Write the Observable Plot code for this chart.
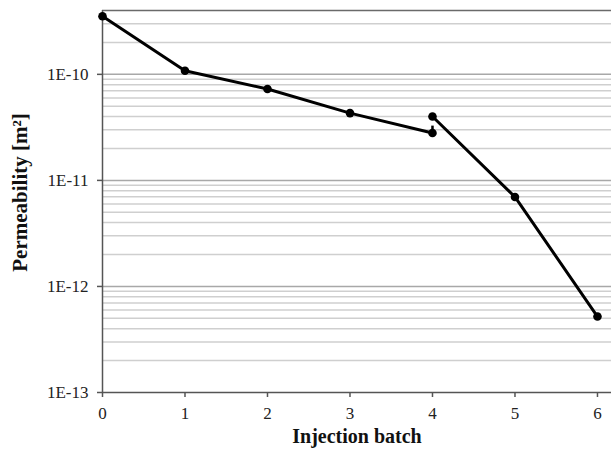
<!DOCTYPE html>
<html><head><meta charset="utf-8">
<script src="https://cdn.jsdelivr.net/npm/d3@7"></script>
<script src="https://cdn.jsdelivr.net/npm/@observablehq/plot@0.6"></script>
<style>body{margin:0;background:#fff}</style>
</head><body><div id="chart"></div>
<script>
const batchA = [0, 1, 2, 3, 4];
const permA = [3.53e-10, 1.08e-10, 7.27e-11, 4.31e-11, 2.8e-11];
const batchB = [4, 5, 6];
const permB = [4.0e-11, 6.98e-12, 5.2e-13];
const errBatch = [4];
const errLow = [2.8e-11];
const errHigh = [3.25e-11];
const yTicks = [1e-13, 1e-12, 1e-11, 1e-10];
const yTickLabels = ["1E-13", "1E-12", "1E-11", "1E-10"];
const xTicks = [0, 1, 2, 3, 4, 5, 6];
const xTickLabels = ["0", "1", "2", "3", "4", "5", "6"];
const yTop = 4e-10;

const seriesA = batchA.map((x, i) => ({x, y: permA[i]}));
const seriesB = batchB.map((x, i) => ({x, y: permB[i]}));
const errs = errBatch.map((x, i) => ({x, lo: errLow[i], hi: errHigh[i]}));
const minor = [];
for (const d of yTicks) for (let k = 2; k <= 9; k++) if (d * k < yTop * 0.999) minor.push(d * k);
const serif = "'Liberation Serif', 'Times New Roman', serif";

const plot = Plot.plot({
  width: 611, height: 452,
  marginLeft: 102, marginRight: 0, marginTop: 10, marginBottom: 60,
  style: {background: "#fff"},
  x: {domain: [0, 6.17], axis: null},
  y: {type: "log", domain: [1e-13, yTop], axis: null},
  marks: [
    Plot.ruleY(minor, {stroke: "#cfcfcf", strokeWidth: 1.5}),
    Plot.ruleY(yTicks.slice(1), {stroke: "#a8a8a8", strokeWidth: 1.5}),
    Plot.ruleY([yTop], {stroke: "#6a6a6a", strokeWidth: 1.5}),
    Plot.ruleY([1e-13], {stroke: "#555", strokeWidth: 1.5}),
    Plot.ruleX([0], {stroke: "#555", strokeWidth: 1.5}),
    Plot.axisY({ticks: yTicks, tickSize: 5, stroke: "#555", strokeWidth: 1.5, tickFormat: () => "", label: null}),
    Plot.axisX({ticks: xTicks, tickSize: 5, stroke: "#555", strokeWidth: 1.5, tickFormat: () => "", label: null}),
    Plot.text(yTicks, {y: d => d, text: (d, i) => yTickLabels[i], frameAnchor: "left", dx: -14, textAnchor: "end",
      lineAnchor: "middle", fontSize: 17, fontFamily: serif, fill: "#222"}),
    Plot.text(xTicks, {x: d => d, text: (d, i) => xTickLabels[i], frameAnchor: "bottom", dy: 21, lineAnchor: "middle",
      fontSize: 17, fontFamily: serif, fill: "#222"}),
    Plot.ruleX(errs, {x: "x", y1: "lo", y2: "hi", stroke: "#000", strokeWidth: 2.5}),
    Plot.line(seriesA, {x: "x", y: "y", stroke: "#000", strokeWidth: 3}),
    Plot.line(seriesB, {x: "x", y: "y", stroke: "#000", strokeWidth: 3}),
    Plot.dot(seriesA.concat(seriesB), {x: "x", y: "y", r: 4.3, fill: "#000", stroke: "none"}),
    Plot.text(["Injection batch"], {frameAnchor: "bottom", dy: 44, lineAnchor: "middle", textAnchor: "middle",
      fontSize: 20, fontWeight: "bold", fontFamily: serif, fill: "#111"}),
    Plot.text(["Permeability [m²]"], {frameAnchor: "left", dx: -82, dy: -9, rotate: -90, textAnchor: "middle", lineAnchor: "middle",
      fontSize: 21, fontWeight: "bold", fontFamily: serif, fill: "#111"})
  ]
});
document.getElementById("chart").append(plot);
</script>
</body></html>
